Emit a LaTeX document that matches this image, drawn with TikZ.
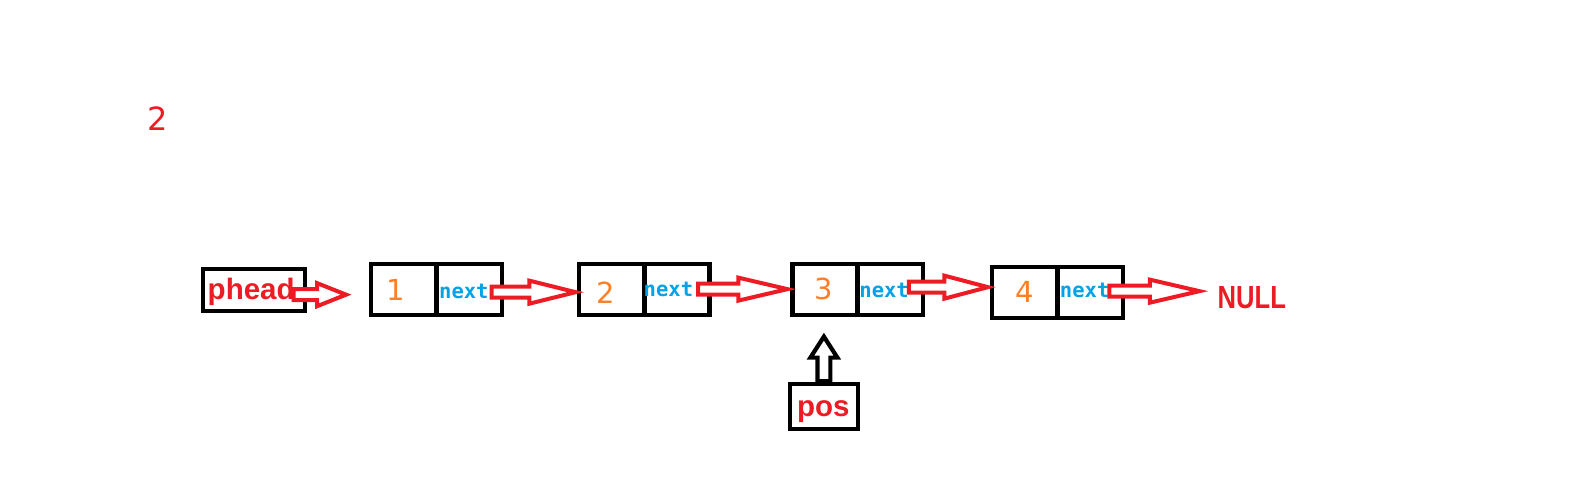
\documentclass[tikz,border=0pt]{standalone}
\usepackage{fontspec}
\setmainfont{Liberation Sans}
\newfontfamily\narrowfont[FakeStretch=0.8]{Liberation Sans}
\newfontfamily\monofont{DejaVu Sans Mono}
\newfontfamily\digitfont{DejaVu Sans}
\usetikzlibrary{calc}
\definecolor{pred}{HTML}{ED1C24}
\definecolor{porange}{HTML}{FF7F27}
\definecolor{pblue}{HTML}{00A2E8}
\tikzset{
  cell/.style={draw=black, line width=4.2pt, minimum width=65pt, minimum height=51pt, inner sep=0pt, outer sep=0pt},
  boxnode/.style={draw=black, line width=4.2pt, inner sep=0pt, outer sep=0pt},
  lbl/.style={inner sep=0pt, outer sep=0pt, text=pred, font=\bfseries\fontsize{29.5}{29.5}\selectfont},
  digit/.style={inner sep=0pt, outer sep=0pt, text=porange, font=\digitfont\fontsize{29}{29}\selectfont},
  nxt/.style={inner sep=0pt, outer sep=0pt, text=pblue, font=\monofont\bfseries\fontsize{20.5}{20.5}\selectfont},
  harrow/.style={draw=pred, line width=4pt, line join=miter, fill=white},
  varrow/.style={draw=black, line width=4.2pt, line join=miter, fill=white},
}
\newcommand\hollowarrow[2]{%
  \path[harrow] let \p1=#1, \p2=#2, \n1={0.55*(\x2-\x1)} in
    (\x1,\y1+5.5pt) -- (\x2-\n1,\y1+5.5pt) -- (\x2-\n1,\y1+11.5pt) -- (\x2,\y1)
    -- (\x2-\n1,\y1-11.5pt) -- (\x2-\n1,\y1-5.5pt) -- (\x1,\y1-5.5pt) -- cycle;}
\begin{document}
\begin{tikzpicture}[x=1.0128pt,y=-1.0128pt]
\useasboundingbox[fill=white] (0,0) rectangle (1568,492.7);
% top label
\node[inner sep=0pt, text=pred, font=\digitfont\fontsize{32}{32}\selectfont] (two) at (156,117) {2};
% phead
\node[boxnode, minimum width=102pt, minimum height=42pt] (phbox) at (250.5,286.5) {};
\node[lbl] (ph) at (248,288) {phead};
% list nodes
\node[cell] (v1) at (398.5,285.5) {};
\node[cell] (n1) at (463.5,285.5) {};
\node[cell] (v2) at (603.5,285.5) {};
\node[cell] (n2) at (668.5,285.5) {};
\node[cell] (v3) at (814.5,285.5) {};
\node[cell] (n3) at (879.5,285.5) {};
\node[cell] (v4) at (1011.5,288.5) {};
\node[cell] (n4) at (1076.5,288.5) {};
\node[digit] (d1) at (391,286) {1};
\node[digit] (d2) at (598,289) {2};
\node[digit] (d3) at (813,285) {3};
\node[digit] (d4) at (1012,288) {4};
\node[nxt] (t1) at (458,287.5) {next};
\node[nxt] (t2) at (660,285.5) {next};
\node[nxt] (t3) at (873,286.5) {next};
\node[nxt] (t4) at (1071,286.5) {next};
% NULL
\node[inner sep=0pt, text=pred, font=\narrowfont\bfseries\fontsize{32}{32}\selectfont] (null) at (1236,294) {NULL};
% pos
\node[boxnode, minimum width=68pt, minimum height=45pt] (posbox) at (814,401.5) {};
\node[lbl] (pos) at (813,406) {pos};
% red arrows
\coordinate (e0) at ($(v1.west)+(-25pt,0)$);
\coordinate (e4) at ($(null.west)+(-18pt,0)$);
\hollowarrow{($(ph.east)+(-1pt,-3pt)$)}{(e0)}
\hollowarrow{($(t1.east)+(3pt,-1pt)$)}{($(v2.west)+(-3pt,0)$)}
\hollowarrow{($(t2.east)+(5pt,0pt)$)}{($(v3.west)+(-5pt,0)$)}
\hollowarrow{($(t3.east)+(0pt,3pt)$)}{($(v4.west)+(-4pt,0)$)}
\hollowarrow{($(t4.east)+(0pt,-1pt)$)}{(e4)}
% black up arrow
\coordinate (tip) at ($(v3.south)+(-1pt,-22pt)$);
\path[varrow] let \p1=(posbox.north), \p2=(tip) in
  (\x2-6.5pt,\y1+3pt) -- (\x2-6.5pt,\y2-21pt) -- (\x2-13.5pt,\y2-21pt) -- (\x2,\y2)
  -- (\x2+13.5pt,\y2-21pt) -- (\x2+6.5pt,\y2-21pt) -- (\x2+6.5pt,\y1+3pt) -- cycle;
\end{tikzpicture}
\end{document}
